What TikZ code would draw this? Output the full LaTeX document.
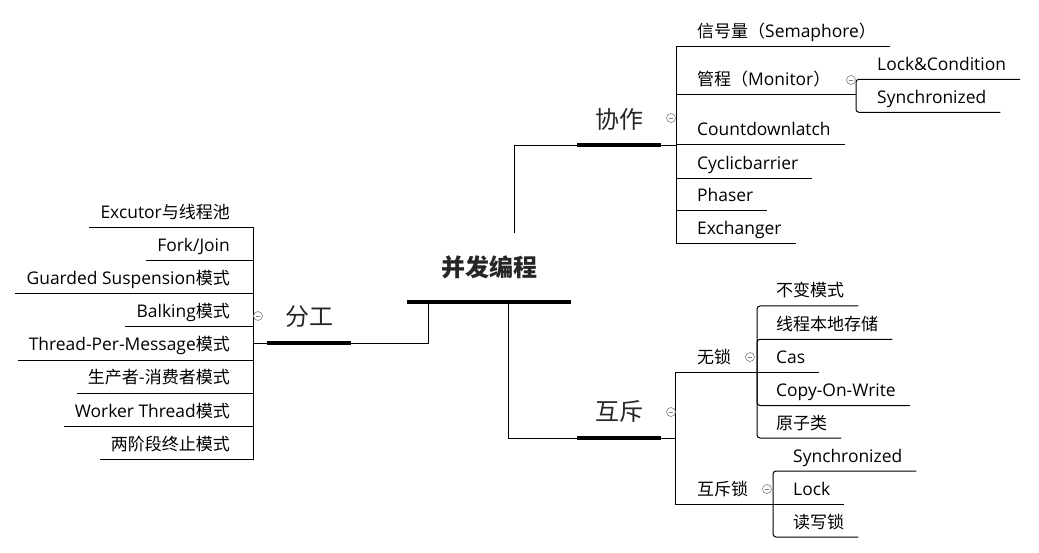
\documentclass[tikz,border=0pt]{standalone}
\usepackage{fontspec}
\setmainfont[Scale=1.025]{Open Sans}
\newfontfamily\cjk{Noto Sans CJK SC}
\newcommand\zh[1]{{\cjk #1}}

\tikzset{
  wire/.style={line width=1pt},
  bar/.style={line width=4.5pt},
  elbow/.style={rounded corners=3pt},
  flat/.style={},
  kid/.style={inner sep=0pt, font=\fontsize{17}{20}\selectfont},
  kidR/.style={kid, anchor=base west},
  kidL/.style={kid, anchor=base east},
  topic/.style={inner sep=0pt, minimum width=84pt, minimum height=52pt, text=black!85, font=\cjk\fontsize{24}{28}\selectfont},
  fold/.style={circle, draw=gray, fill=white, minimum size=9pt, inner sep=0pt, line width=0.6pt,
    path picture={\draw[gray, line width=0.6pt] ([xshift=-2.3pt]path picture bounding box.center) -- ([xshift=2.3pt]path picture bounding box.center);}}
}

\begin{document}
\begin{tikzpicture}[x=1pt, y=-1pt]
\useasboundingbox (0,0) rectangle (1039,553);

% centre topic
\node[topic, minimum width=164pt, minimum height=69pt, anchor=south, font=\cjk\bfseries\fontsize{24}{28}\selectfont] (root) at (489,302) {并发编程};
\draw[bar] (root.south west) -- (root.south east);

% 分工
\node[topic] (fengong) at (309,317) {分工};
\draw[bar] (fengong.south west) -- (fengong.south east);
\draw[wire] ([xshift=-61pt]root.south) |- (fengong.south east);
\draw[wire] (fengong.south west) -- ++(-13,0) coordinate (fgj);
\foreach \u/\t [count=\i] in {228/{Excutor\zh{与线程池}}, 261/{Fork/Join}, 294/{Guarded Suspension\zh{模式}},
    327/{Balking\zh{模式}}, 360/{Thread-Per-Message\zh{模式}}, 393/{\zh{生产者-消费者模式}},
    426/{Worker Thread\zh{模式}}, 459/{\zh{两阶段终止模式}}}{
  \node[kidL] (fg\i) at (230,\u-9) {\t};
  \draw[wire] (fgj) |- ([shift={(-11pt,-9pt)}]fg\i.base west);
}

% 协作
\node[topic] (xiezuo) at (619,119) {协作};
\draw[bar] (xiezuo.south west) -- (xiezuo.south east);
\draw[wire] ([xshift=25pt]root.north) |- (xiezuo.south west);
\draw[wire] (xiezuo.south east) -- ++(15,0) coordinate (xzj);
\foreach \u/\t [count=\i] in {46.7/{\zh{信号量（}Semaphore\zh{）}}, 95/{\zh{管程（}Monitor\zh{）}},
    145/Countdownlatch, 178.3/Cyclicbarrier, 211/Phaser, 244/Exchanger}{
  \node[kidR] (xz\i) at (697,\u-9) {\t};
  \draw[wire] (xzj) |- ([shift={(14pt,-9pt)}]xz\i.base east);
}
\coordinate (monj) at (856,95);
\draw[wire] (xzj) |- (monj);
\node[kidR] (mon1) at (877,70.3) {Lock\&Condition};
\node[kidR] (mon2) at (877,103.3) {Synchronized};
\draw[wire, elbow] (monj) |- ([shift={(14pt,-9pt)}]mon1.base east);
\draw[wire, elbow] (monj) |- ([shift={(14pt,-9pt)}]mon2.base east);

% 互斥
\node[topic] (huchi) at (619,412) {互斥};
\draw[bar] (huchi.south west) -- (huchi.south east);
\draw[wire] ([xshift=19pt]root.south) |- (huchi.south west);
\draw[wire] (huchi.south east) -- ++(14,0) coordinate (hcj);

\node[kidR] (hc1) at (697,363) {\zh{无锁}};
\coordinate (wlj) at (757,372);
\draw[wire] (hcj) |- (wlj);
\foreach \u/\t/\s [count=\i] in {306/{\zh{不变模式}}/elbow, 339.3/{\zh{线程本地存储}}/elbow, 372/Cas/flat,
    405.5/{Copy-On-Write}/elbow, 438/{\zh{原子类}}/elbow}{
  \node[kidR] (wl\i) at (776,\u-9) {\t};
  \draw[wire, \s] (wlj) |- ([shift={(14pt,-9pt)}]wl\i.base east);
}

\node[kidR] (hc2) at (697,495) {\zh{互斥锁}};
\coordinate (hsj) at (773,504);
\draw[wire] (hcj) |- (hsj);
\foreach \u/\t/\s [count=\i] in {471/Synchronized/elbow, 504/Lock/flat, 537/{\zh{读写锁}}/elbow}{
  \node[kidR] (hs\i) at (793,\u-9) {\t};
  \draw[wire, \s] (hsj) |- ([shift={(14pt,-9pt)}]hs\i.base east);
}

% fold buttons
\node[fold] (fgfold) at (258,316) {};
\node[fold] (xzfold) at (671,118) {};
\node[fold] (monfold) at (851,80) {};
\node[fold] (hcfold) at (671,412) {};
\node[fold] (wlfold) at (750,357) {};
\node[fold] (hsfold) at (767,489) {};
\end{tikzpicture}
\end{document}
